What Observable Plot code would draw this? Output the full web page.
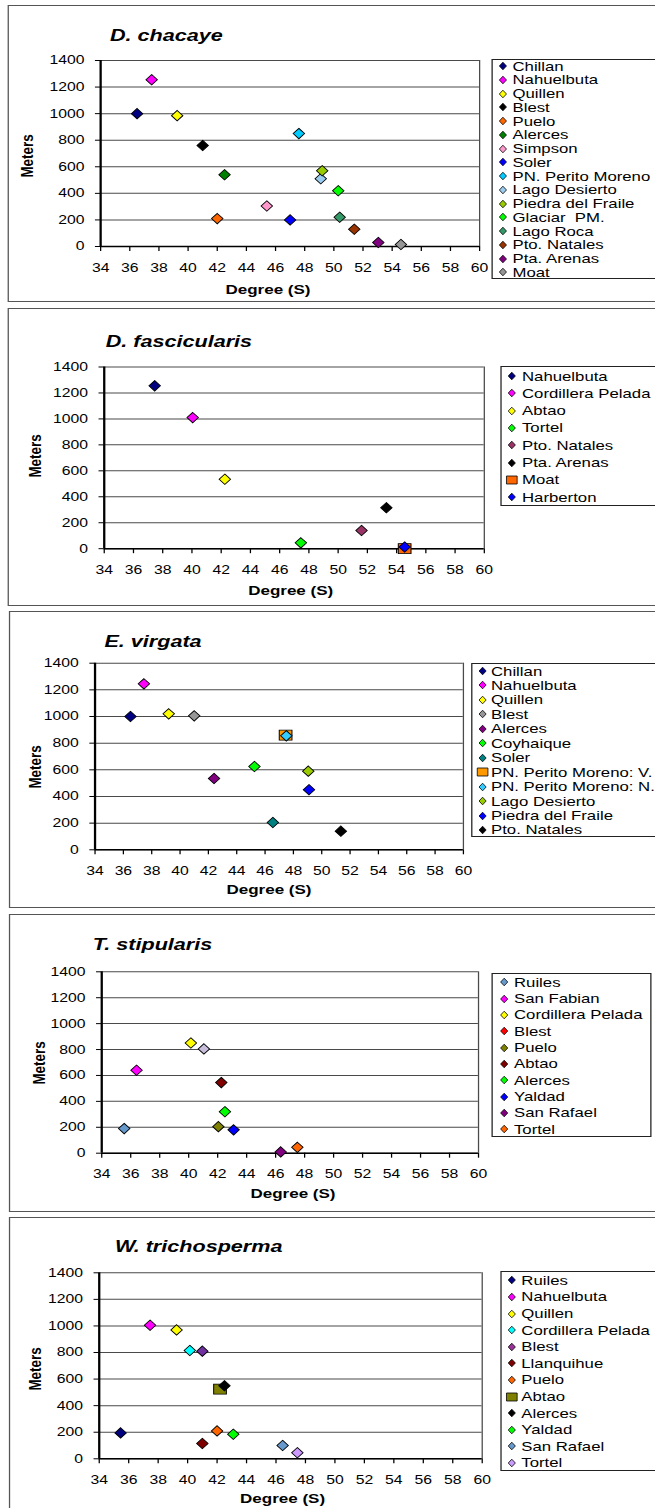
<!DOCTYPE html>
<html><head><meta charset="utf-8">
<script src="https://cdn.jsdelivr.net/npm/d3@7"></script>
<script src="https://cdn.jsdelivr.net/npm/@observablehq/plot@0.6"></script>
<style>
html,body{margin:0;padding:0;background:#fff;overflow:hidden;width:655px;height:1508px}
#wrap{position:absolute;left:0;top:0;height:1508px;transform-origin:0 0;font-family:Arial,"Liberation Sans",sans-serif;color:#000}
.abs{position:absolute;white-space:pre;line-height:1}
</style></head><body><div id="wrap"></div><script>
// ---------- data ----------
const degreeTicks = [34, 36, 38, 40, 42, 44, 46, 48, 50, 52, 54, 56, 58, 60];
const meterTicks = [0, 200, 400, 600, 800, 1000, 1200, 1400];

const chacayeSites = ["Chillan","Nahuelbuta","Quillen","Blest","Puelo","Alerces","Simpson","Soler","PN. Perito Moreno","Lago Desierto","Piedra del Fraile","Glaciar  PM.","Lago Roca","Pto. Natales","Pta. Arenas","Moat"];
const chacayeDeg = [36.5, 37.5, 39.25, 41.0, 42.0, 42.5, 45.4, 47.0, 47.6, 49.1, 49.2, 50.3, 50.4, 51.4, 53.05, 54.6];
const chacayeMeters = [1000, 1255, 985, 760, 210, 540, 305, 200, 850, 510, 570, 420, 220, 130, 30, 15];
const chacayeColors = ["#000080","#FF00FF","#FFFF00","#000000","#FF6600","#008000","#FF99CC","#0000FF","#00CCFF","#99CCEE","#99CC00","#00FF00","#339966","#993300","#800080","#969696"];
const chacayeShapes = ["d","d","d","d","d","d","d","d","d","d","d","d","d","d","d","d"];

const fascSites = ["Nahuelbuta","Cordillera Pelada","Abtao","Tortel","Pto. Natales","Pta. Arenas","Moat","Harberton"];
const fascDeg = [37.45, 40.05, 42.25, 47.45, 51.6, 53.3, 54.55, 54.55];
const fascMeters = [1255, 1010, 535, 45, 140, 315, 0, 13];
const fascColors = ["#000080","#FF00FF","#FFFF00","#00FF00","#993366","#000000","#FF6600","#0000FF"];
const fascShapes = ["d","d","d","d","d","d","s","d"];

const virgSites = ["Chillan","Nahuelbuta","Quillen","Blest","Alerces","Coyhaique","Soler","PN. Perito Moreno: V.","PN. Perito Moreno: N.","Lago Desierto","Piedra del Fraile","Pto. Natales"];
const virgDeg = [36.5, 37.45, 39.2, 41.0, 42.4, 45.25, 46.55, 47.45, 47.5, 49.05, 49.1, 51.35];
const virgMeters = [1000, 1245, 1020, 1005, 535, 625, 205, 860, 855, 590, 450, 140];
const virgColors = ["#000080","#FF00FF","#FFFF00","#969696","#800080","#00FF00","#008080","#FF9900","#33CCFF","#99CC00","#0000FF","#000000"];
const virgShapes = ["d","d","d","d","d","d","d","s","d","d","d","d"];

const stipSites = ["Ruiles","San Fabian","Cordillera Pelada","Blest","Puelo","Abtao","Alerces","Yaldad","San Rafael","Tortel"];
const stipDeg = [35.55, 36.4, 40.15, 41.05, 42.05, 42.25, 42.5, 43.1, 46.35, 47.5];
const stipMeters = [190, 640, 850, 805, 205, 545, 320, 180, 10, 45];
const stipColors = ["#6699CC","#FF00FF","#FFFF00","#C8BEDC","#808000","#800000","#00FF00","#0000FF","#800080","#FF6600"];
const stipLegendColors = ["#6699CC","#FF00FF","#FFFF00","#FF0000","#808000","#800000","#00FF00","#0000FF","#800080","#FF6600"];
const stipShapes = ["d","d","d","d","d","d","d","d","d","d"];

const trichSites = ["Ruiles","Nahuelbuta","Quillen","Cordillera Pelada","Blest","Llanquihue","Puelo","Abtao","Alerces","Yaldad","San Rafael","Tortel"];
const trichDeg = [35.45, 37.45, 39.25, 40.15, 41.0, 41.0, 42.0, 42.2, 42.5, 43.1, 46.45, 47.45];
const trichMeters = [195, 1005, 970, 815, 810, 115, 210, 525, 550, 185, 100, 45];
const trichColors = ["#000080","#FF00FF","#FFFF00","#00FFFF","#7030A0","#800000","#FF6600","#808000","#000000","#00FF00","#6699CC","#CC99FF"];
const trichLegendColors = ["#000080","#FF00FF","#FFFF00","#00FFFF","#993399","#800000","#FF6600","#808000","#000000","#00FF00","#6699CC","#CC99FF"];
const trichShapes = ["d","d","d","d","d","d","d","s","d","d","d","d"];

const titles = ["D. chacaye","D. fascicularis","E. virgata","T. stipularis","W. trichosperma"];

// ---------- layout (page pixels) ----------
const S = 1.27;            // horizontal stretch of the reference
const LW = 655 / S;
const layouts = [
  {box:{left:7, top:5, bottom:302}, plot:{x0:100, x1:479, y0:60, y1:246}, title:{x:110, y:35}, meters:{x:28.5, y:156}, degree:{x:268, y:290},
   legend:{left:491, top:59, bottom:279, right:700, y0:66, dy:13.75, mx:503.5, tx:512.5}},
  {box:{left:8, top:307.5, bottom:606}, plot:{x0:103.6, x1:483.7, y0:366, y1:547.7}, title:{x:105.7, y:341}, meters:{x:35.5, y:456}, degree:{x:290.7, y:591},
   legend:{left:501, top:366, bottom:506, right:700, y0:376, dy:17.3, mx:512, tx:522}},
  {box:{left:9, top:611, bottom:908}, plot:{x0:94.4, x1:462.8, y0:662.7, y1:849.3}, title:{x:104.4, y:641}, meters:{x:35.5, y:766.7}, degree:{x:269, y:890},
   legend:{left:471, top:662.7, bottom:837.3, right:700, y0:671, dy:14.45, mx:482.5, tx:491}},
  {box:{left:9, top:914, bottom:1212}, plot:{x0:101.1, x1:477.9, y0:971.3, y1:1152.7}, title:{x:92.7, y:944}, meters:{x:39.7, y:1062.7}, degree:{x:293, y:1194},
   legend:{left:492, top:973.3, bottom:1136.7, right:652, y0:982.3, dy:16.33, mx:504.6, tx:514}},
  {box:{left:9, top:1217, bottom:1540}, plot:{x0:98.6, x1:481.6, y0:1272.3, y1:1458.3}, title:{x:114.9, y:1246}, meters:{x:35.5, y:1369.3}, degree:{x:282.6, y:1499},
   legend:{left:501, top:1271, bottom:1470.7, right:700, y0:1280.3, dy:16.6, mx:512, tx:521.3}}
];

const panels = [
  {sites:chacayeSites, deg:chacayeDeg, m:chacayeMeters, colors:chacayeColors, legendColors:chacayeColors, shapes:chacayeShapes},
  {sites:fascSites, deg:fascDeg, m:fascMeters, colors:fascColors, legendColors:fascColors, shapes:fascShapes},
  {sites:virgSites, deg:virgDeg, m:virgMeters, colors:virgColors, legendColors:virgColors, shapes:virgShapes},
  {sites:stipSites, deg:stipDeg, m:stipMeters, colors:stipColors, legendColors:stipLegendColors, shapes:stipShapes},
  {sites:trichSites, deg:trichDeg, m:trichMeters, colors:trichColors, legendColors:trichLegendColors, shapes:trichShapes}
];

// ---------- symbols ----------
const diamondSym = {draw(c){ c.moveTo(0,-5.2); c.lineTo(4.5,0); c.lineTo(0,5.2); c.lineTo(-4.5,0); c.closePath(); }};
const squareSym = {draw(c){ c.moveTo(-5,-5); c.lineTo(5,-5); c.lineTo(5,5); c.lineTo(-5,5); c.closePath(); }};

const wrap = document.getElementById("wrap");
wrap.style.width = LW + "px";
wrap.style.transform = `scaleX(${S})`;
const W = d3.select(wrap);

function textDiv(str, x, y, fs, style) {
  return W.append("div").attr("class","abs").text(str)
    .style("left", (x / S) + "px").style("top", (y - 0.49 * fs) + "px")
    .style("font-size", fs + "px").attr("style", function(){ return this.getAttribute("style") + ";" + (style || ""); });
}

panels.forEach((p, k) => {
  const L = layouts[k];
  const svgH = L.box.bottom - L.box.top;
  // panel border
  W.append("div").attr("class","abs")
    .style("left", (L.box.left / S) + "px").style("top", L.box.top + "px")
    .style("width", ((720 - L.box.left) / S) + "px").style("height", svgH + "px")
    .style("border", "1.5px solid #555").style("box-sizing", "border-box");

  const data = p.sites.map((s, i) => ({site: s, deg: p.deg[i], m: p.m[i], color: p.colors[i], shape: p.shapes[i]}));
  const chart = Plot.plot({
    width: LW, height: svgH,
    marginLeft: L.plot.x0 / S, marginRight: LW - L.plot.x1 / S,
    marginTop: L.plot.y0 - L.box.top, marginBottom: L.box.bottom - L.plot.y1,
    x: {domain: [34, 60]},
    y: {domain: [0, 1400]},
    color: {type: "identity"},
    style: {fontFamily: 'Arial, "Liberation Sans", sans-serif', fontSize: "12.4px", color: "#000", background: "transparent", overflow: "visible"},
    marks: [
      Plot.ruleY(meterTicks, {stroke: "#4a4a4a", strokeWidth: 1}),
      Plot.ruleX([60], {stroke: "#4a4a4a", strokeWidth: 1}),
      Plot.axisY({ticks: meterTicks, tickSize: 4, tickPadding: 8.8, tickFormat: d => String(d), label: null}),
      Plot.axisX({ticks: degreeTicks, tickSize: 5, tickPadding: 11.5, tickFormat: d => String(d), label: null}),
      Plot.ruleX([34], {stroke: "#000", strokeWidth: 1.8}),
      Plot.ruleY([0], {stroke: "#000", strokeWidth: 1.5}),
      Plot.dot(data.filter(d => d.shape === "s"), {x: "deg", y: "m", fill: "color", stroke: "#000", strokeWidth: 0.8, symbol: squareSym, r: 5}),
      Plot.dot(data.filter(d => d.shape === "d"), {x: "deg", y: "m", fill: "color", stroke: "#000", strokeWidth: 0.8, symbol: diamondSym, r: 5})
    ]
  });
  d3.select(chart).attr("class", (chart.getAttribute("class") || "") + " abs")
    .style("position", "absolute").style("left", "0px").style("top", L.box.top + "px").style("max-width", "none");
  wrap.appendChild(chart);

  // title & axis titles
  textDiv(titles[k], L.title.x, L.title.y, 17, "font-weight:bold;font-style:italic");
  W.append("div").attr("class","abs").text("Meters")
    .style("left", (L.meters.x / S) + "px").style("top", L.meters.y + "px")
    .style("font-size", "13.4px").style("font-weight", "bold")
    .style("transform", "translate(-50%,-50%) rotate(-90deg)");
  W.append("div").attr("class","abs").text("Degree (S)")
    .style("left", (L.degree.x / S) + "px").style("top", (L.degree.y - 0.49 * 13.4) + "px")
    .style("font-size", "13.4px").style("font-weight", "bold")
    .style("transform", "translateX(-50%)");

  // legend
  const G = L.legend;
  W.append("div").attr("class","abs")
    .style("left", (G.left / S) + "px").style("top", G.top + "px")
    .style("width", ((G.right - G.left) / S) + "px").style("height", (G.bottom - G.top) + "px")
    .style("border", "1.2px solid #222").style("box-sizing", "border-box").style("background", "#fff");
  p.sites.forEach((name, i) => {
    const y = G.y0 + i * G.dy;
    const sv = W.append("svg").attr("class","abs").attr("width", 12).attr("height", 12)
      .style("left", (G.mx / S - 6) + "px").style("top", (y - 6) + "px").style("overflow", "visible");
    const path = p.shapes[i] === "s" ? "M1.8,2 L10.2,2 L10.2,10 L1.8,10 Z" : "M6,2.2 L8.8,6 L6,9.8 L3.2,6 Z";
    sv.append("path").attr("d", path).attr("fill", p.legendColors[i]).attr("stroke", "#000").attr("stroke-width", 0.7);
    textDiv(name, G.tx, y, 13.2);
  });
});
</script></body></html>
